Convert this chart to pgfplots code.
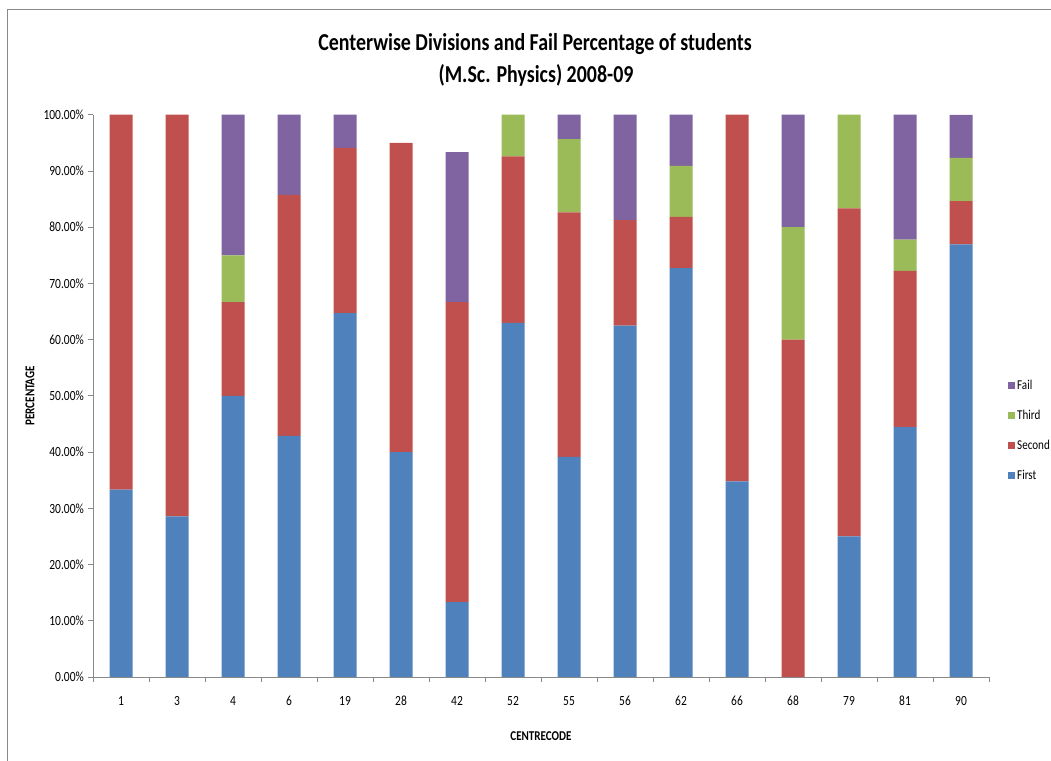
\documentclass[border=0pt]{standalone}
\usepackage{fontspec}
\setmainfont{Carlito}[FakeStretch=0.82]
\usepackage{pgfplots}
\usepackage{pgfplotstable}
\pgfplotsset{compat=1.18}
\definecolor{cFirst}{HTML}{4F81BD}
\definecolor{cSecond}{HTML}{C0504D}
\definecolor{cThird}{HTML}{9BBB59}
\definecolor{cFail}{HTML}{8064A2}
\definecolor{axisgray}{HTML}{898989}
\pgfplotsset{sqlegend/.style={legend image code/.code={\fill[##1] (0bp,-3.5bp) rectangle (7bp,3.5bp);}}}
\pgfplotstableread{
x first second third fail
0  33.33 66.67 0     0
1  28.57 71.43 0     0
2  50.00 16.67 8.33  25.00
3  42.86 42.86 0     14.29
4  64.71 29.41 0     5.88
5  40.00 55.00 0     0
6  13.33 53.33 0     26.67
7  62.96 29.63 7.41  0
8  39.13 43.48 13.04 4.35
9  62.50 18.75 0     18.75
10 72.73 9.09  9.09  9.09
11 34.78 65.22 0     0
12 0     60.00 20.00 20.00
13 25.00 58.33 16.67 0
14 44.44 27.78 5.56  22.22
15 76.92 7.69  7.69  7.69
}\datatable
\begin{document}
\begin{tikzpicture}
\begin{axis}[
  at={(93bp,84bp)}, anchor=south west,
  scale only axis, width=896bp, height=562.3bp,
  ybar stacked, bar width=23bp,
  xmin=-0.5, xmax=15.5, ymin=0, ymax=100,
  xtick={0,...,15},
  xticklabels={1,3,4,6,19,28,42,52,55,56,62,66,68,79,81,90},
  major x tick style={draw=none},
  minor xtick={-0.5,0.5,...,15.5},
  ytick={0,10,...,100},
  yticklabel={\pgfmathprintnumber[fixed,fixed zerofill,precision=2]{\tick}\%},
  /pgf/number format/assume math mode=true,
  axis lines=left, axis line style={-, draw=axisgray, line width=1bp},
  tick style={draw=axisgray, line width=0.8bp},
  tick align=outside, major tick length=5bp, minor tick length=5bp,
  ticklabel style={font=\fontsize{14bp}{16bp}\selectfont, text=black},
  yticklabel style={inner sep=0pt, xshift=-4bp},
  xticklabel style={inner sep=0pt, yshift=-14bp},
  xlabel={CENTRECODE}, ylabel={PERCENTAGE},
  every axis x label/.style={at={(axis description cs:0.5,-0.105)}, anchor=center,
    font=\fontsize{13.5bp}{15bp}\selectfont\bfseries},
  every axis y label/.style={at={(axis description cs:-0.0703,0.5)}, anchor=center, rotate=90,
    font=\fontsize{13.5bp}{15bp}\selectfont\bfseries},
  reverse legend,
  legend cell align=left,
  legend style={at={(axis description cs:1.0212,0.438)}, anchor=west, draw=none, fill=none,
    font=\fontsize{13.5bp}{16bp}\selectfont, row sep=15bp, inner sep=0pt},
]
\addplot[fill=cFirst, draw=none, sqlegend] table[x=x, y=first]{\datatable};
\addplot[fill=cSecond, draw=none, sqlegend] table[x=x, y=second]{\datatable};
\addplot[fill=cThird, draw=none, sqlegend] table[x=x, y=third]{\datatable};
\addplot[fill=cFail, draw=none, sqlegend] table[x=x, y=fail]{\datatable};
\legend{First,Second,Third,Fail}
\end{axis}
\draw[axisgray, line width=1bp] (7bp,0bp) -- (7bp,751bp) -- (1051bp,751bp);
\node[font=\fontsize{24.3bp}{28bp}\selectfont\bfseries, anchor=base, inner sep=0pt] at (535bp,710bp) {Centerwise Divisions and Fail Percentage of students};
\node[font=\fontsize{24.3bp}{28bp}\selectfont\bfseries, anchor=base, inner sep=0pt] at (536bp,678bp) {(M.Sc. Physics) 2008-09};
\pgfresetboundingbox
\path[use as bounding box] (0bp,0bp) rectangle (1051bp,761bp);
\end{tikzpicture}
\end{document}
